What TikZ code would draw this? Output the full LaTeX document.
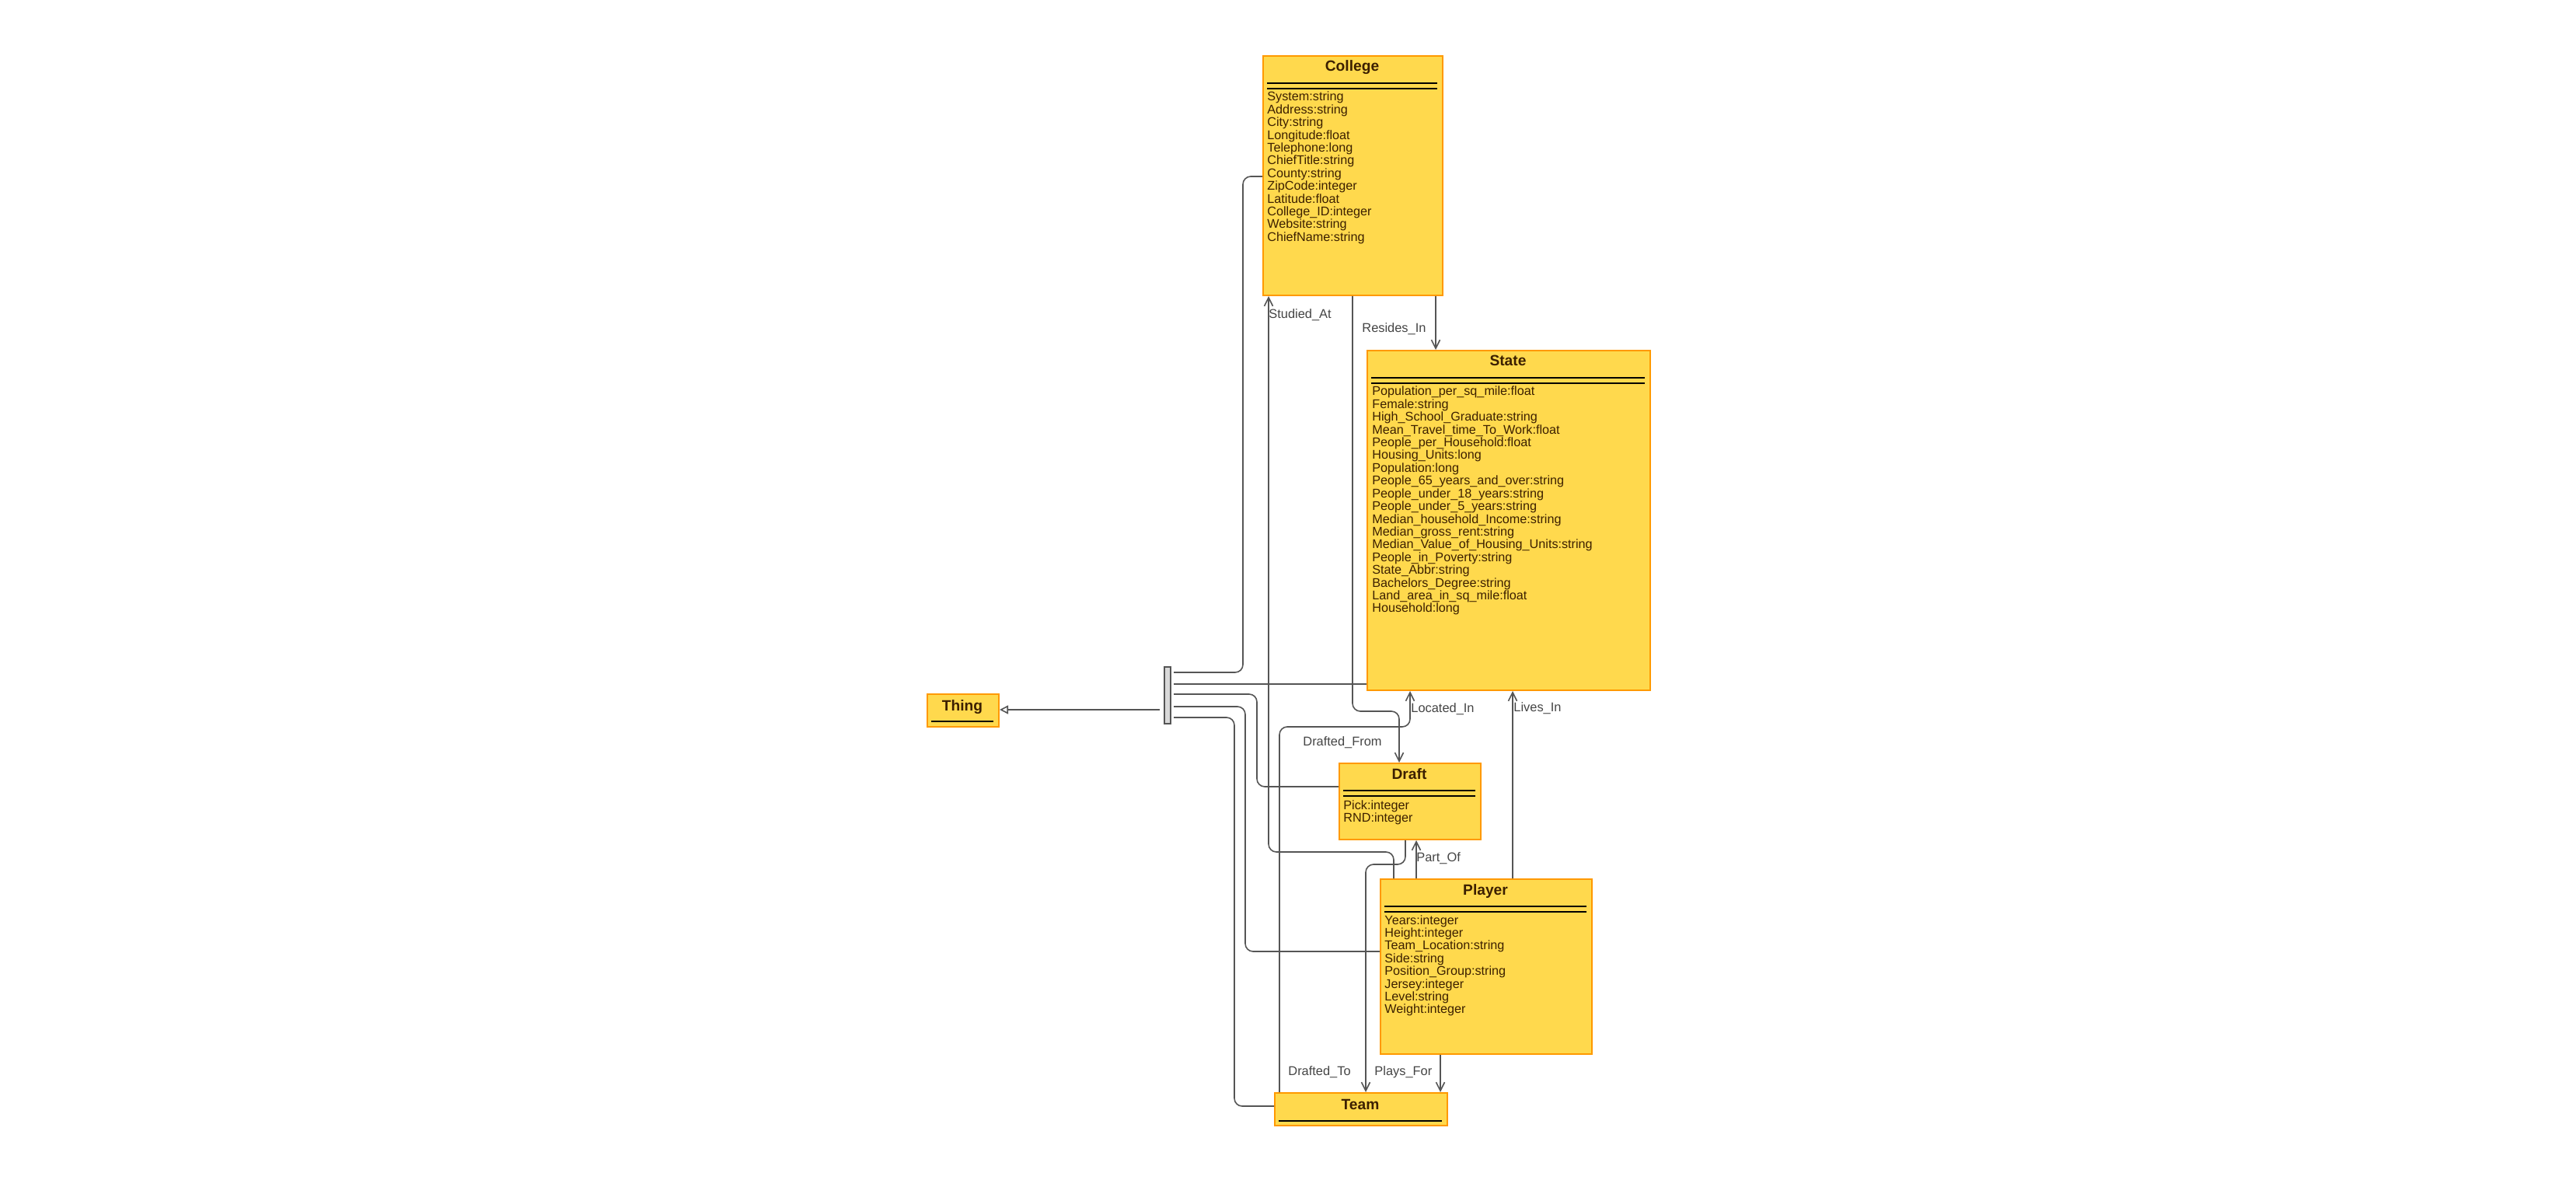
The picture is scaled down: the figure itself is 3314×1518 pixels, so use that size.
\documentclass[tikz,border=0pt]{standalone}
\usepackage{fontspec}
\setmainfont{Liberation Sans}
\usetikzlibrary{arrows.meta}
\definecolor{boxyellow}{RGB}{255,217,77}
\definecolor{boxorange}{RGB}{255,153,0}
\definecolor{txtbrown}{RGB}{60,32,0}
\definecolor{linegray}{RGB}{85,85,85}
\definecolor{lblgray}{RGB}{68,68,68}
\definecolor{barfill}{RGB}{217,217,217}
\begin{document}
\begin{tikzpicture}[x=0.5pt,y=-0.5pt,
  cls/.style={draw=boxorange, fill=boxyellow, line width=1pt, inner sep=0pt, anchor=north west},
  ttl/.style={font=\bfseries\fontsize{9.6pt}{11pt}\selectfont, text=txtbrown, anchor=base, inner sep=0pt},
  attr/.style={font=\fontsize{8.1pt}{8.2pt}\selectfont, text=txtbrown, anchor=base west, inner sep=0pt},
  sepline/.style={black, line width=0.75pt},
  link/.style={draw=linegray, line width=0.8pt, rounded corners=5pt},
  rel/.style={link, -{Straight Barb[length=5.5pt,width=5.5pt]}},
  gen/.style={draw=linegray, line width=0.8pt, -{Triangle[open,length=5.5pt,width=5.5pt]}},
  lbl/.style={font=\fontsize{8.2pt}{9pt}\selectfont, text=lblgray, anchor=base west, inner sep=0pt},
]
\useasboundingbox (0,0) rectangle (3314,1518);

% ---- boxes
\node[cls, minimum width=115.5pt, minimum height=154pt] (college) at (1624,71) {};
\node[cls, minimum width=182pt, minimum height=218.5pt] (state) at (1758,450) {};
\node[cls, minimum width=46pt, minimum height=21pt] (thing) at (1192,892) {};
\node[cls, minimum width=91pt, minimum height=49pt] (draft) at (1722,981) {};
\node[cls, minimum width=136pt, minimum height=112.5pt] (player) at (1775,1130) {};
\node[cls, minimum width=111pt, minimum height=21pt] (team) at (1639,1405) {};
\node[draw=linegray, fill=barfill, line width=0.8pt, inner sep=0pt, anchor=north west,
      minimum width=4pt, minimum height=36.5pt] (bar) at (1497,857) {};

% ---- titles
\node[ttl] (college-t) at (1739.5,92) {College};
\node[ttl] (state-t) at (1940,471) {State};
\node[ttl] (thing-t) at (1238,914) {Thing};
\node[ttl] (draft-t) at (1813,1002) {Draft};
\node[ttl] (player-t) at (1911,1151) {Player};
\node[ttl] (team-t) at (1750,1427) {Team};

% ---- separator lines
\draw[sepline] (1630,107) -- (1849,107) (1630,114) -- (1849,114);
\draw[sepline] (1764,486) -- (2116,486) (1764,493) -- (2116,493);
\draw[sepline] (1728,1017) -- (1898,1017) (1728,1024) -- (1898,1024);
\draw[sepline] (1781,1166) -- (2041,1166) (1781,1173) -- (2041,1173);
\draw[sepline] (1645,1442) -- (1855,1442);
\draw[sepline] (1198,928) -- (1278,928);

% ---- attributes
\foreach \t [count=\i from 0] in {System:string, Address:string, City:string,
  Longitude:float, Telephone:long, ChiefTitle:string, County:string,
  ZipCode:integer, Latitude:float, College\_ID:integer, Website:string,
  ChiefName:string}
  \node[attr] (college-a\i) at (1630,{130+16.4*\i}) {\t};

\foreach \t [count=\i from 0] in {Population\_per\_sq\_mile:float, Female:string,
  High\_School\_Graduate:string, Mean\_Travel\_time\_To\_Work:float,
  People\_per\_Household:float, Housing\_Units:long, Population:long,
  People\_65\_years\_and\_over:string, People\_under\_18\_years:string,
  People\_under\_5\_years:string, Median\_household\_Income:string,
  Median\_gross\_rent:string, Median\_Value\_of\_Housing\_Units:string,
  People\_in\_Poverty:string, State\_Abbr:string, Bachelors\_Degree:string,
  Land\_area\_in\_sq\_mile:float, Household:long}
  \node[attr] (state-a\i) at (1765,{509+16.4*\i}) {\t};

\foreach \t [count=\i from 0] in {Pick:integer, RND:integer}
  \node[attr] (draft-a\i) at (1728,{1041+16.4*\i}) {\t};

\foreach \t [count=\i from 0] in {Years:integer, Height:integer,
  Team\_Location:string, Side:string, Position\_Group:string, Jersey:integer,
  Level:string, Weight:integer}
  \node[attr] (player-a\i) at (1781,{1189+16.4*\i}) {\t};

% ---- bar ports
\coordinate (g0) at (1492,913);
\coordinate (g1) at (1510,865);
\coordinate (g2) at (1510,880);
\coordinate (g3) at (1510,893);
\coordinate (g4) at (1510,909);
\coordinate (g5) at (1510,923);

\draw[gen] (g0) -- (g0 -| thing.east);
\draw[link] (g1) -- (1599,865) -- (1599,227) -- (college.west |- 0,227);
\draw[link] (g2) -- (state.west |- g2);
\draw[link] (g3) -- (1617,893) -- (1617,1012) -- (draft.west |- 0,1012);
\draw[link] (g4) -- (1602,909) -- (1602,1224) -- (player.west |- 0,1224);
\draw[link] (g5) -- (1588,923) -- (1588,1423) -- (team.west |- 0,1423);

% ---- relations
\draw[rel] (player.north -| 1793,0) -- (1793,1096) -- (1632,1096) -- (college.south -| 1632,0);
\draw[rel] (college.south -| 1847,0) -- (state.north -| 1847,0);
\draw[rel] (college.south -| 1740,0) -- (1740,915) -- (1800,915) -- (draft.north -| 1800,0);
\draw[rel] (team.north -| 1646,0) -- (1646,935) -- (1814,935) -- (state.south -| 1814,0);
\draw[rel] (player.north -| 1946,0) -- (state.south -| 1946,0);
\draw[rel] (player.north -| 1822,0) -- (draft.south -| 1822,0);
\draw[rel] (draft.south -| 1808,0) -- (1808,1112) -- (1757,1112) -- (team.north -| 1757,0);
\draw[rel] (player.south -| 1853,0) -- (team.north -| 1853,0);

% ---- labels
\node[lbl] (l-studied) at (1632,410) {Studied\_At};
\node[lbl] (l-resides) at (1752,428) {Resides\_In};
\node[lbl] (l-draftedfrom) at (1676,959) {Drafted\_From};
\node[lbl] (l-located) at (1815,916) {Located\_In};
\node[lbl] (l-lives) at (1947,915) {Lives\_In};
\node[lbl] (l-partof) at (1822,1108) {Part\_Of};
\node[lbl] (l-draftedto) at (1657,1383) {Drafted\_To};
\node[lbl] (l-plays) at (1768,1383) {Plays\_For};
\end{tikzpicture}
\end{document}
